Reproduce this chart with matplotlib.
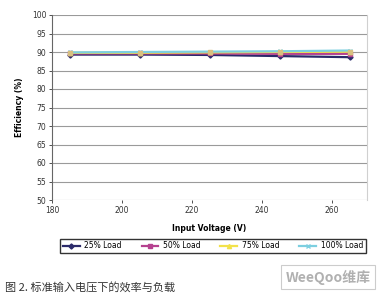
import matplotlib
matplotlib.use("Agg")
import matplotlib.pyplot as plt

plt.rcParams['font.family'] = ['DejaVu Sans', 'Noto Sans CJK SC']

voltage = [185, 205, 225, 245, 265]
load25 = [89.3, 89.3, 89.2, 88.9, 88.6]
load50 = [89.6, 89.6, 89.6, 89.5, 89.5]
load75 = [89.8, 89.8, 89.9, 90.0, 90.1]
load100 = [89.9, 90.0, 90.1, 90.2, 90.4]
series_names = ['25% Load', '50% Load', '75% Load', '100% Load']
xticks = [180, 200, 220, 240, 260]
yticks = list(range(50, 101, 5))

fig = plt.figure(figsize=(3.81, 2.96), dpi=100)
ax = fig.add_axes([52/381, 1-200/296, (367-52)/381, (200-15)/296])

styles = [
    (load25, '#2B2A6A', 'D', 2.6),
    (load50, '#B5418F', 's', 2.6),
    (load75, '#F2E24A', '^', 3.0),
    (load100, '#7CCFE0', 'x', 3.0),
]
handles = []
for (vals, c, m, ms), name in zip(styles, series_names):
    h, = ax.plot(voltage, vals, color=c, marker=m, markersize=ms, linewidth=1.6,
                 label=name, markeredgecolor=c)
    handles.append(h)
ax.plot(voltage, load75, linestyle='none', marker='s', markersize=3.5, color='#D8C080')

ax.set_xlim(180, 270)
ax.set_ylim(50, 100)
ax.set_xticks(xticks)
ax.set_yticks(yticks)
ax.yaxis.grid(True, color='#9a9a9a', linewidth=0.8)
ax.tick_params(labelsize=5.5, colors='#333333', length=2, width=0.6, pad=2)
ax.spines['top'].set_visible(False)
ax.spines['bottom'].set_visible(False)
ax.spines['left'].set_color('#666666')
ax.spines['right'].set_color('#d0d0d0')

ax.set_xlabel('Input Voltage (V)', fontsize=5.5, fontweight='bold', labelpad=7)
ax.set_ylabel('Efficiency (%)', fontsize=5.5, fontweight='bold', labelpad=6)

leg = fig.legend(handles=handles, loc='center', bbox_to_anchor=(213/381, 1-246/296),
                 ncol=4, fontsize=5.5, frameon=True, fancybox=False,
                 edgecolor='black', handlelength=2.2, columnspacing=2.6,
                 borderpad=0.35, handletextpad=0.6)
leg.get_frame().set_linewidth(1.0)

fig.text(5/381, 1-287/296, '图 2. 标准输入电压下的效率与负载', fontsize=8,
         family=['Noto Sans CJK SC', 'DejaVu Sans'], va='center', color='#333333')

fig.text(328/381, 1-277/296, 'WeeQoo维库', fontsize=10, style='italic', fontweight='bold',
         family=['Noto Sans CJK SC', 'DejaVu Sans'], va='center', ha='center', color='#b0b0b0',
         bbox=dict(boxstyle='square,pad=0.3', fc='white', ec='#cccccc', lw=0.8))

fig.savefig('out.png', dpi=100)
